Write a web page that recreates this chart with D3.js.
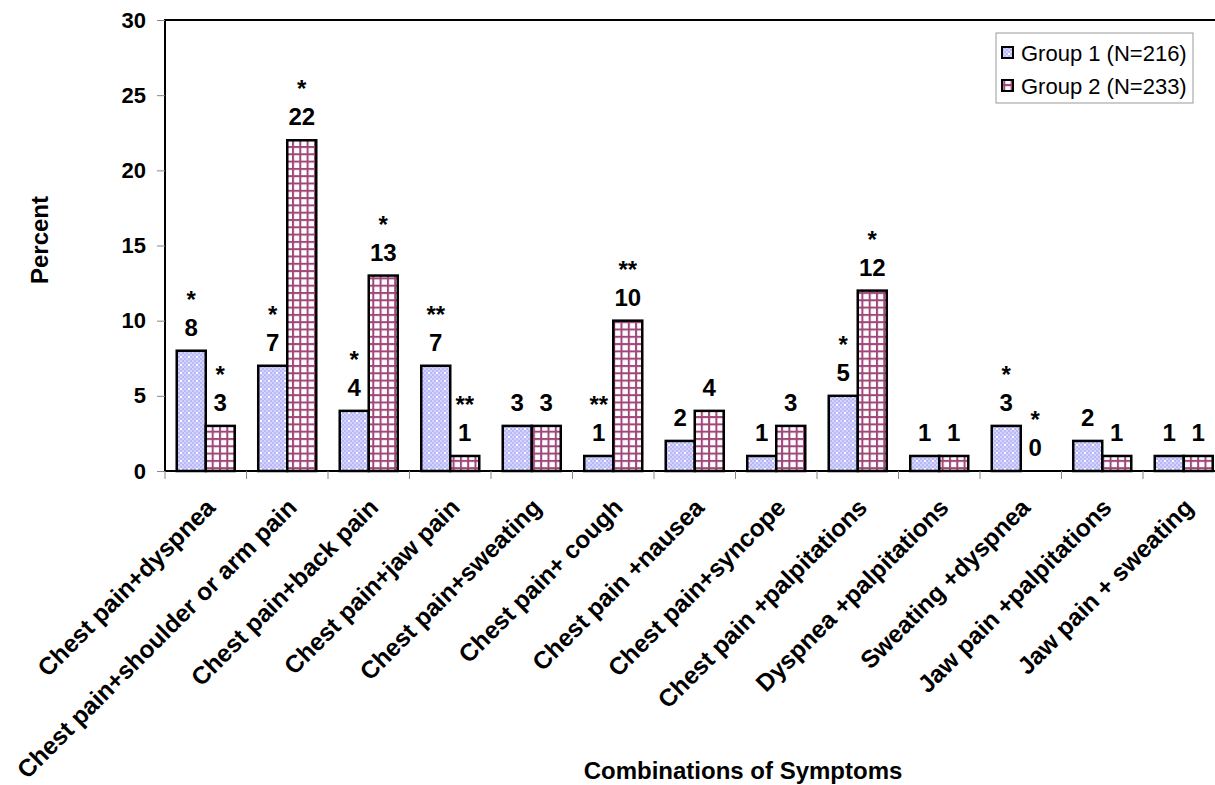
<!DOCTYPE html>
<html>
<head>
<meta charset="utf-8">
<script src="https://cdn.jsdelivr.net/npm/d3@7"></script>
<style>
  body { margin: 0; background: #fff; }
  svg { display: block; font-family: "Liberation Sans", Arial, sans-serif; }
</style>
</head>
<body>
<div id="chart"></div>
<script>
var categories = ["Chest pain+dyspnea", "Chest pain+shoulder or arm pain", "Chest pain+back pain",
  "Chest pain+jaw pain", "Chest pain+sweating", "Chest pain+ cough", "Chest pain +nausea",
  "Chest pain+syncope", "Chest pain +palpitations", "Dyspnea +palpitations", "Sweating +dyspnea",
  "Jaw pain +palpitations", "Jaw pain + sweating"];
var group1 = [8, 7, 4, 7, 3, 1, 2, 1, 5, 1, 3, 2, 1];
var group2 = [3, 22, 13, 1, 3, 10, 4, 3, 12, 1, 0, 1, 1];
var stars1 = ["*", "*", "*", "**", "", "**", "", "", "*", "", "*", "", ""];
var stars2 = ["*", "*", "*", "**", "", "**", "", "", "*", "", "*", "", ""];
var seriesNames = ["Group 1 (N=216)", "Group 2 (N=233)"];
var yTicks = [0, 5, 10, 15, 20, 25, 30];

(function() {
  var W = 1215, H = 785;
  var mLeft = 165, mTop = 20, mBottom = 471;
  var catW = 81.5;

  var svg = d3.select('#chart').append('svg')
    .attr('width', W)
    .attr('height', H);

  // fill patterns
  var defs = svg.append('defs');
  var p1 = defs.append('pattern')
    .attr('id', 'pat1').attr('patternUnits', 'userSpaceOnUse')
    .attr('width', 8).attr('height', 8);
  p1.append('rect').attr('width', 8).attr('height', 8).attr('fill', '#b8b8f6');
  [[0, 0], [4, 0], [2, 2], [6, 2], [0, 4], [2, 6], [6, 6]].forEach(function(c) {
    p1.append('rect').attr('x', c[0]).attr('y', c[1])
      .attr('width', 2).attr('height', 2).attr('fill', '#d4d4fc');
  });
  p1.append('rect').attr('x', 4).attr('y', 4).attr('width', 2).attr('height', 2).attr('fill', '#ffffff');

  var p2 = defs.append('pattern')
    .attr('id', 'pat2').attr('patternUnits', 'userSpaceOnUse')
    .attr('width', 7.3).attr('height', 7.3);
  p2.append('rect').attr('width', 7.3).attr('height', 7.3).attr('fill', '#ffffff');
  p2.append('rect').attr('width', 7.3).attr('height', 2).attr('fill', '#a0467a');
  p2.append('rect').attr('width', 2).attr('height', 7.3).attr('fill', '#a0467a');

  var x = d3.scaleBand()
    .domain(categories)
    .range([mLeft, mLeft + catW * categories.length])
    .paddingInner(0.288)
    .paddingOuter(0.144);

  var xs = d3.scaleBand()
    .domain([0, 1])
    .range([0, x.bandwidth()]);

  var y = d3.scaleLinear()
    .domain([0, 30])
    .range([mBottom, mTop]);

  // plot frame
  svg.append('rect')
    .attr('x', mLeft).attr('y', mTop)
    .attr('width', catW * categories.length).attr('height', mBottom - mTop)
    .attr('fill', 'none').attr('stroke', '#000').attr('stroke-width', 2);

  // y axis
  var yAxis = svg.append('g')
    .attr('transform', 'translate(' + mLeft + ',0)')
    .call(d3.axisLeft(y).tickValues(yTicks).tickSize(8).tickPadding(11));
  yAxis.select('.domain').remove();
  yAxis.selectAll('line').attr('stroke', '#888');
  yAxis.selectAll('text')
    .attr('font-size', 22).attr('font-weight', 'bold').attr('fill', '#000')
    .attr('font-family', '"Liberation Sans", Arial, sans-serif');

  // x ticks at category boundaries
  svg.append('g').selectAll('line')
    .data(d3.range(categories.length + 1))
    .enter()
    .append('line')
    .attr('x1', function(d) { return mLeft + d * catW; })
    .attr('x2', function(d) { return mLeft + d * catW; })
    .attr('y1', mBottom)
    .attr('y2', mBottom + 8)
    .attr('stroke', '#888');

  // bars + labels
  var series = [group1, group2];
  var stars = [stars1, stars2];
  var fills = ['url(#pat1)', 'url(#pat2)'];

  series.forEach(function(vals, s) {
    var rows = vals.map(function(v, i) { return { v: v, i: i, st: stars[s][i] }; });
    var g = svg.append('g');

    g.selectAll('rect')
      .data(rows.filter(function(d) { return d.v > 0; }))
      .enter()
      .append('rect')
      .attr('x', function(d) { return x(categories[d.i]) + xs(s); })
      .attr('y', function(d) { return y(d.v); })
      .attr('width', xs.bandwidth())
      .attr('height', function(d) { return y(0) - y(d.v); })
      .attr('fill', fills[s])
      .attr('stroke', '#000')
      .attr('stroke-width', 2.5);

    var lab = g.selectAll('g.lab')
      .data(rows)
      .enter()
      .append('g')
      .attr('class', 'lab')
      .attr('transform', function(d) {
        return 'translate(' + (x(categories[d.i]) + xs(s) + xs.bandwidth() / 2) + ',' + (y(d.v) - 15) + ')';
      });
    lab.append('text')
      .attr('text-anchor', 'middle')
      .attr('font-size', 24).attr('font-weight', 'bold')
      .text(function(d) { return d.v; });
    lab.append('text')
      .attr('text-anchor', 'middle')
      .attr('y', -28)
      .attr('font-size', 24).attr('font-weight', 'bold')
      .text(function(d) { return d.st; });
  });

  // category labels
  svg.append('g').selectAll('text')
    .data(categories)
    .enter()
    .append('text')
    .attr('transform', function(d) {
      return 'translate(' + (x(d) + x.bandwidth() / 2 + 11) + ',' + (mBottom + 38) + ') rotate(-45)';
    })
    .attr('text-anchor', 'end')
    .attr('font-size', 24.5).attr('font-weight', 'bold')
    .text(function(d) { return d; });

  // axis titles
  svg.append('text')
    .attr('x', 743).attr('y', 779)
    .attr('text-anchor', 'middle')
    .attr('font-size', 24).attr('font-weight', 'bold')
    .text('Combinations of Symptoms');

  svg.append('text')
    .attr('transform', 'translate(48,240) rotate(-90)')
    .attr('text-anchor', 'middle')
    .attr('font-size', 24).attr('font-weight', 'bold')
    .text('Percent');

  // legend
  var lg = svg.append('g').attr('transform', 'translate(996,33)');
  lg.append('rect')
    .attr('width', 197).attr('height', 70)
    .attr('fill', '#fff').attr('stroke', '#999').attr('stroke-width', 1);
  seriesNames.forEach(function(name, s) {
    lg.append('rect')
      .attr('x', 6).attr('y', 14 + s * 33)
      .attr('width', 11).attr('height', 11)
      .attr('fill', fills[s]).attr('stroke', '#000').attr('stroke-width', 2);
    lg.append('text')
      .attr('x', 25).attr('y', 28 + s * 33)
      .attr('font-size', 22)
      .text(name);
  });
})();
</script>
</body>
</html>
